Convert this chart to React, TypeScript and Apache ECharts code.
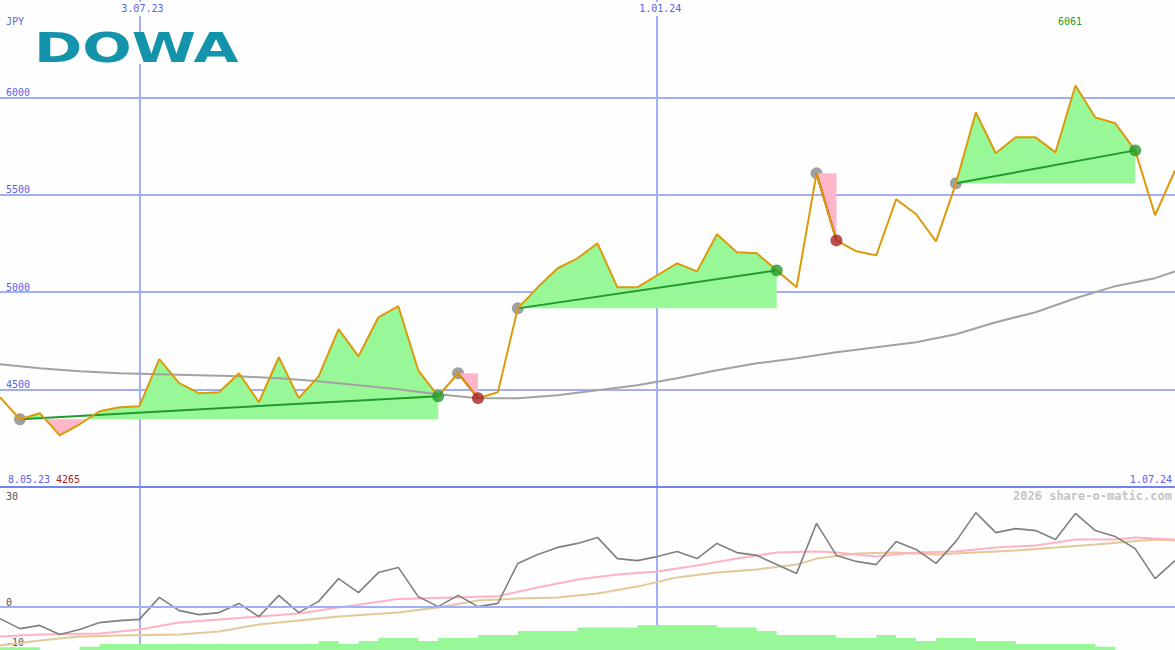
import React, { useEffect, useRef } from 'react';
import * as echarts from 'echarts';

const dates = [
  '15.05.23', '22.05.23', '29.05.23', '5.06.23', '12.06.23', '19.06.23', '26.06.23', '3.07.23', '10.07.23', '17.07.23',
  '24.07.23', '31.07.23', '7.08.23', '14.08.23', '21.08.23', '28.08.23', '4.09.23', '11.09.23', '18.09.23', '25.09.23',
  '2.10.23', '9.10.23', '16.10.23', '23.10.23', '30.10.23', '6.11.23', '13.11.23', '20.11.23', '27.11.23', '4.12.23',
  '11.12.23', '18.12.23', '25.12.23', '1.01.24', '8.01.24', '15.01.24', '22.01.24', '29.01.24', '5.02.24', '12.02.24',
  '19.02.24', '26.02.24', '4.03.24', '11.03.24', '18.03.24', '25.03.24', '1.04.24', '8.04.24', '15.04.24', '22.04.24',
  '29.04.24', '6.05.24', '13.05.24', '20.05.24', '27.05.24', '3.06.24', '10.06.24', '17.06.24', '24.06.24', '1.07.24',
];

const markedDates = ['3.07.23', '1.01.24'];

const price = [
  4461, 4348, 4379, 4265, 4322, 4389, 4409, 4415, 4656, 4533,
  4481, 4486, 4584, 4435, 4666, 4456, 4568, 4810, 4671, 4871,
  4928, 4599, 4466, 4584, 4456, 4486, 4917, 5025, 5123, 5174,
  5251, 5025, 5025, 5087, 5148, 5107, 5297, 5205, 5200, 5112,
  5025, 5610, 5266, 5210, 5189, 5477, 5400, 5261, 5559, 5923,
  5713, 5795, 5795, 5718, 6061, 5897, 5867, 5728, 5395, 5625,
];

const movingAvg = [
  [0, 4630], [2, 4609], [4, 4594], [6, 4584], [8, 4579], [10, 4574], [12, 4568], [14, 4558],
  [16, 4543], [18, 4522], [20, 4502], [22, 4476], [24, 4456], [26, 4456], [28, 4471], [30, 4497],
  [32, 4522], [34, 4558], [36, 4599], [38, 4635], [40, 4661], [42, 4692], [44, 4717], [46, 4743],
  [48, 4784], [50, 4846], [52, 4897], [54, 4969], [56, 5031], [58, 5072], [59, 5107],
];

const segStarts = [1, 23, 26, 41, 48];
const segEnds = [22, 24, 39, 42, 57];

const momentum = [
  -2.9, -5.4, -4.6, -6.9, -5.6, -3.9, -3.4, -3.1, 2.4, -0.9,
  -1.9, -1.4, 0.9, -2.4, 2.9, -1.4, 1.4, 7.1, 3.6, 8.6,
  9.9, 2.6, 0.1, 2.9, 0.1, 0.9, 10.9, 13.1, 14.9, 15.9,
  17.4, 12.1, 11.6, 12.6, 13.9, 12.1, 15.9, 13.6, 12.9, 10.6,
  8.4, 20.9, 12.9, 11.4, 10.6, 16.4, 14.4, 10.9, 16.4, 23.6,
  18.6, 19.6, 19.1, 16.9, 23.4, 19.1, 17.6, 14.6, 7.1, 11.6,
];

const pinkAvg = [
  [0, -7.4], [2, -6.9], [5, -6.6], [7, -5.6], [9, -3.9], [11, -3.1], [13, -2.4], [15, -1.6],
  [17, -0.1], [20, 2.0], [25, 2.7], [27, 4.9], [29, 6.9], [31, 8.1], [33, 8.9], [35, 10.4],
  [37, 12.1], [39, 13.6], [41, 13.9], [42, 13.6], [44, 12.6], [46, 13.6], [48, 13.9], [50, 14.9],
  [52, 15.4], [54, 16.9], [56, 16.9], [57, 17.4], [59, 16.9],
];

const tanAvg = [
  [0, -9.6], [2, -8.4], [4, -7.4], [6, -7.1], [9, -6.9], [11, -6.1], [13, -4.4], [15, -3.4],
  [17, -2.4], [20, -1.4], [22, -0.1], [24, 1.6], [26, 2.1], [28, 2.4], [30, 3.4], [32, 5.1],
  [34, 7.4], [36, 8.6], [38, 9.4], [40, 10.6], [41, 12.1], [43, 13.4], [45, 13.6], [47, 13.1],
  [49, 13.6], [51, 14.1], [53, 14.9], [55, 15.6], [58, 16.9], [59, 16.6],
];

const volume = [
  0.7, 0.7, 0, 0, 0.8, 1.5, 1.5, 1.5, 1.5, 1.5,
  1.5, 1.5, 1.5, 1.5, 1.5, 1.5, 2.25, 1.5, 2.25, 3,
  3, 2.25, 3, 3, 3.75, 3.75, 4.75, 4.75, 4.75, 5.6,
  5.6, 5.6, 6.25, 6.25, 6.25, 6.25, 5.6, 5.6, 4.75, 3.75,
  3.75, 3.75, 3, 3, 3.75, 3, 2.25, 3, 3, 2.25,
  2.25, 1.5, 1.5, 1.5, 1.5, 0.8, 0, 0, 0, 0,
];

const lowerLabels = [0, -10];

const BG = '#fdfefd';
const BLUE = '#5464ee';
const GRID = '#a2aff3';
const SEP = '#7484ee';
const MONO = '"DejaVu Sans Mono", monospace';
const GREEN_FILL = '#98f898';
const PINK_FILL = '#ffb6c8';
const UP = '#22992a';
const DOWN = '#aa2222';

const isMarked = (_i: number, v: string) => markedDates.indexOf(v) >= 0;

const maxPrice = Math.max(...price);
const minPrice = Math.min(...price);

function renderFill(params: any, api: any) {
  const s = api.value(0);
  const e = api.value(1);
  const baseY = api.coord([s, price[s]])[1];
  const pts: number[][] = [];
  for (let i = s; i <= e; i++) {
    const p = api.coord([i, price[i]]);
    if (pts.length) {
      const q = pts[pts.length - 1];
      if ((q[1] - baseY) * (p[1] - baseY) < 0) {
        const t = (baseY - q[1]) / (p[1] - q[1]);
        pts.push([q[0] + t * (p[0] - q[0]), baseY]);
      }
    }
    pts.push(p);
  }
  const x0 = pts[0][0];
  const x1 = pts[pts.length - 1][0];
  const up = pts.map((p) => [p[0], Math.min(p[1], baseY)]).concat([[x1, baseY], [x0, baseY]]);
  const dn = pts.map((p) => [p[0], Math.max(p[1], baseY)]).concat([[x1, baseY], [x0, baseY]]);
  return {
    type: 'group',
    children: [
      { type: 'polygon', shape: { points: up }, style: { fill: GREEN_FILL } },
      { type: 'polygon', shape: { points: dn }, style: { fill: PINK_FILL } },
    ],
  };
}

function buildOption(): any {
  return {
    animation: false,
    backgroundColor: BG,
    grid: [
      { left: 0, right: 0, top: 0, height: 487 },
      { left: 0, right: 0, top: 487, height: 160 },
      { left: 0, right: 0, top: 487, height: 163 },
    ],
    xAxis: [
      {
        gridIndex: 0, type: 'category', data: dates, boundaryGap: false, position: 'top',
        axisLine: { show: false }, axisTick: { show: false },
        axisLabel: {
          inside: true, interval: isMarked, color: BLUE, fontFamily: MONO, fontSize: 10,
          margin: 2, backgroundColor: BG, padding: [1, 2, 3, 8],
        },
        splitLine: { show: true, interval: isMarked, lineStyle: { color: GRID, width: 2 } },
      },
      {
        gridIndex: 0, type: 'category', data: dates, boundaryGap: false, position: 'bottom',
        axisLine: { show: true, lineStyle: { color: SEP, width: 2 } },
        axisTick: { show: false }, axisLabel: { show: false }, splitLine: { show: false },
      },
      { gridIndex: 1, type: 'category', data: dates, boundaryGap: false, show: false },
      {
        gridIndex: 2, type: 'category', data: dates, boundaryGap: false,
        axisLine: { show: false }, axisTick: { show: false }, axisLabel: { show: false },
        splitLine: { show: true, interval: isMarked, lineStyle: { color: GRID, width: 2 } },
      },
    ],
    yAxis: [
      {
        gridIndex: 0, type: 'value', min: 4000, max: 6500, interval: 500,
        axisLine: { show: false }, axisTick: { show: false },
        axisLabel: {
          inside: true, verticalAlign: 'bottom', showMinLabel: false, showMaxLabel: false,
          color: BLUE, fontFamily: MONO, fontSize: 10, margin: 6,
          formatter: (v: number) => String(v),
        },
        splitLine: { show: true, showMinLine: false, showMaxLine: false, lineStyle: { color: GRID, width: 2 } },
      },
      {
        gridIndex: 1, type: 'value', min: -10, max: 30, interval: 10,
        axisLine: { show: false }, axisTick: { show: false },
        axisLabel: {
          inside: true, verticalAlign: 'bottom', color: '#555555', fontFamily: MONO, fontSize: 10, margin: 6,
          formatter: (v: number) => (lowerLabels.indexOf(v) >= 0 ? String(v) : ''),
        },
        splitLine: { show: false },
      },
      { gridIndex: 2, type: 'value', min: 0, max: 40.75, show: false },
    ],
    series: [
      {
        type: 'scatter', xAxisIndex: 0, yAxisIndex: 0, z: 1, silent: true,
        data: segStarts.map((i) => [i, price[i]]), symbolSize: 12,
        itemStyle: { color: '#888888' },
      },
      {
        type: 'custom', xAxisIndex: 0, yAxisIndex: 0, z: 2, silent: true,
        data: segStarts.map((s, k) => [s, segEnds[k]]),
        renderItem: renderFill,
      },
      {
        type: 'line', xAxisIndex: 0, yAxisIndex: 0, z: 3, silent: true,
        data: movingAvg, showSymbol: false, symbol: 'none',
        lineStyle: { color: '#a2a2a2', width: 2 },
      },
      {
        type: 'lines', coordinateSystem: 'cartesian2d', xAxisIndex: 0, yAxisIndex: 0, z: 4, silent: true,
        data: segStarts.map((s, k) => ({
          coords: [[s, price[s]], [segEnds[k], price[segEnds[k]]]],
          lineStyle: { color: price[segEnds[k]] >= price[s] ? UP : DOWN },
        })),
        lineStyle: { width: 2, opacity: 1 },
      },
      {
        type: 'line', xAxisIndex: 0, yAxisIndex: 0, z: 5, silent: true,
        data: price, showSymbol: false, symbol: 'none',
        lineStyle: { color: '#dc9a0a', width: 2 },
      },
      {
        type: 'scatter', xAxisIndex: 0, yAxisIndex: 0, z: 6, silent: true,
        data: segEnds.map((e, k) => ({
          value: [e, price[e]],
          itemStyle: { color: price[e] >= price[segStarts[k]] ? UP : DOWN },
        })),
        symbolSize: 12,
      },
      {
        type: 'line', xAxisIndex: 3, yAxisIndex: 2, z: 1, silent: true,
        data: volume, step: 'end', showSymbol: false, symbol: 'none',
        lineStyle: { width: 0 }, areaStyle: { color: GREEN_FILL, opacity: 1, origin: 'start' },
      },
      {
        type: 'line', xAxisIndex: 2, yAxisIndex: 1, z: 2, silent: true,
        data: tanAvg, showSymbol: false, symbol: 'none',
        lineStyle: { color: '#e3c999', width: 2 },
      },
      {
        type: 'line', xAxisIndex: 2, yAxisIndex: 1, z: 3, silent: true,
        data: pinkAvg, showSymbol: false, symbol: 'none',
        lineStyle: { color: '#ffb2c4', width: 2 },
      },
      {
        type: 'line', xAxisIndex: 2, yAxisIndex: 1, z: 4, silent: true,
        data: momentum, showSymbol: false, symbol: 'none',
        lineStyle: { color: '#808080', width: 1.6 },
        markLine: {
          silent: true, symbol: 'none', label: { show: false },
          lineStyle: { color: GRID, width: 2, type: 'solid' },
          data: [{ yAxis: 0 }],
        },
      },
    ],
    graphic: [
      { type: 'rect', z: 100, shape: { x: 30, y: 32, width: 212, height: 32 }, style: { fill: BG } },
      {
        type: 'text', z: 101, x: 34, y: 27, scaleX: 1.42,
        style: { text: 'DOWA', font: 'bold 41px "DejaVu Sans"', fill: '#1494aa', verticalAlign: 'top' },
      },
      { type: 'text', z: 101, x: 6, y: 21, style: { text: 'JPY', font: `10px ${MONO}`, fill: BLUE, verticalAlign: 'middle' } },
      { type: 'text', z: 101, x: 1070, y: 21, style: { text: String(maxPrice), font: `10px ${MONO}`, fill: UP, align: 'center', verticalAlign: 'middle' } },
      { type: 'text', z: 101, x: 8, y: 479, style: { text: '8.05.23', font: `10px ${MONO}`, fill: BLUE, verticalAlign: 'middle' } },
      { type: 'text', z: 101, x: 56, y: 479, style: { text: String(minPrice), font: `10px ${MONO}`, fill: DOWN, verticalAlign: 'middle' } },
      { type: 'text', z: 101, x: 1172, y: 479, style: { text: '1.07.24', font: `10px ${MONO}`, fill: BLUE, align: 'right', verticalAlign: 'middle' } },
      { type: 'text', z: 101, x: 1172, y: 496, style: { text: '2026 share-o-matic.com', font: `bold 12px ${MONO}`, fill: '#c4c4c4', align: 'right', verticalAlign: 'middle' } },
      { type: 'text', z: 101, x: 6, y: 496, style: { text: '30', font: `10px ${MONO}`, fill: '#555555', verticalAlign: 'middle' } },
    ],
  };
}

export default function App() {
  const ref = useRef<HTMLDivElement>(null);
  useEffect(() => {
    if (!ref.current) return;
    const chart = echarts.init(ref.current, null, { renderer: 'svg' });
    chart.setOption(buildOption());
    return () => chart.dispose();
  }, []);
  return <div ref={ref} style={{ position: 'fixed', left: 0, top: 0, width: 1175, height: 650 }} />;
}
